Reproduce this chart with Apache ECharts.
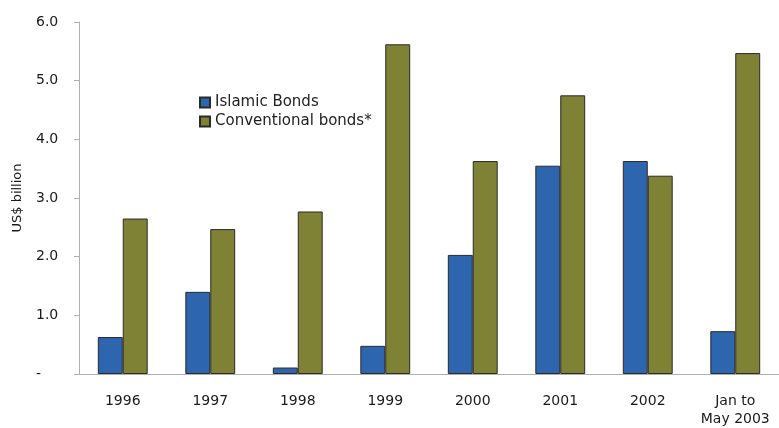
<!DOCTYPE html>
<html><head><meta charset="utf-8">
<script src="https://cdn.jsdelivr.net/npm/echarts@6/dist/echarts.min.js"></script>
<style>html,body{margin:0;padding:0;background:#fff;overflow:hidden}#c{width:779px;height:428px}</style>
</head><body><div id="c"></div>
<script>
var categories = ['1996','1997','1998','1999','2000','2001','2002','Jan to\nMay 2003'];
var islamic = [0.63, 1.40, 0.11, 0.48, 2.03, 3.55, 3.63, 0.73];
var conventional = [2.65, 2.47, 2.77, 5.62, 3.63, 4.75, 3.38, 5.47];
var yTickLabels = {0:'-',1:'1.0',2:'2.0',3:'3.0',4:'4.0',5:'5.0',6:'6.0'};

var chart = echarts.init(document.getElementById('c'));
var font = 'DejaVu Sans, Liberation Sans, Arial, sans-serif';
chart.setOption({
  animation: false,
  textStyle: {fontFamily: font},
  legend: {
    orient: 'vertical', left: 199, top: 95, itemGap: 4, padding: 0,
    itemWidth: 10, itemHeight: 10, icon: 'rect',
    textStyle: {fontSize: 15, color: '#222', fontFamily: font},
    data: ['Islamic Bonds', 'Conventional bonds*']
  },
  grid: {left: 79, top: 22, height: 360, width: 704},
  xAxis: {
    type: 'category', data: categories,
    axisLine: {lineStyle: {color: '#b0b0b0', width: 1}},
    axisTick: {show: false},
    axisLabel: {interval: 0, fontSize: 14, color: '#1a1a1a', margin: 18, lineHeight: 18, fontFamily: font}
  },
  yAxis: {
    type: 'value', min: 0, max: 6, interval: 1,
    name: 'US$ billion', nameLocation: 'middle', nameGap: 55,
    nameTextStyle: {fontSize: 13, color: '#1a1a1a', fontFamily: font},
    axisLine: {show: true, lineStyle: {color: '#b0b0b0'}},
    axisTick: {show: true, length: 5, lineStyle: {color: '#b0b0b0'}},
    splitLine: {show: false},
    axisLabel: {fontSize: 14, color: '#1a1a1a', margin: 43, align: 'left', fontFamily: font,
      formatter: function (v) { return yTickLabels[v]; }}
  },
  series: [
    {name: 'Islamic Bonds', type: 'bar', data: islamic, barGap: '0%', barCategoryGap: '43%',
     itemStyle: {color: '#2E65AF', borderColor: '#2a2a2a', borderWidth: 1}},
    {name: 'Conventional bonds*', type: 'bar', data: conventional,
     itemStyle: {color: '#7F8134', borderColor: '#2a2a2a', borderWidth: 1}}
  ]
});
</script></body></html>
